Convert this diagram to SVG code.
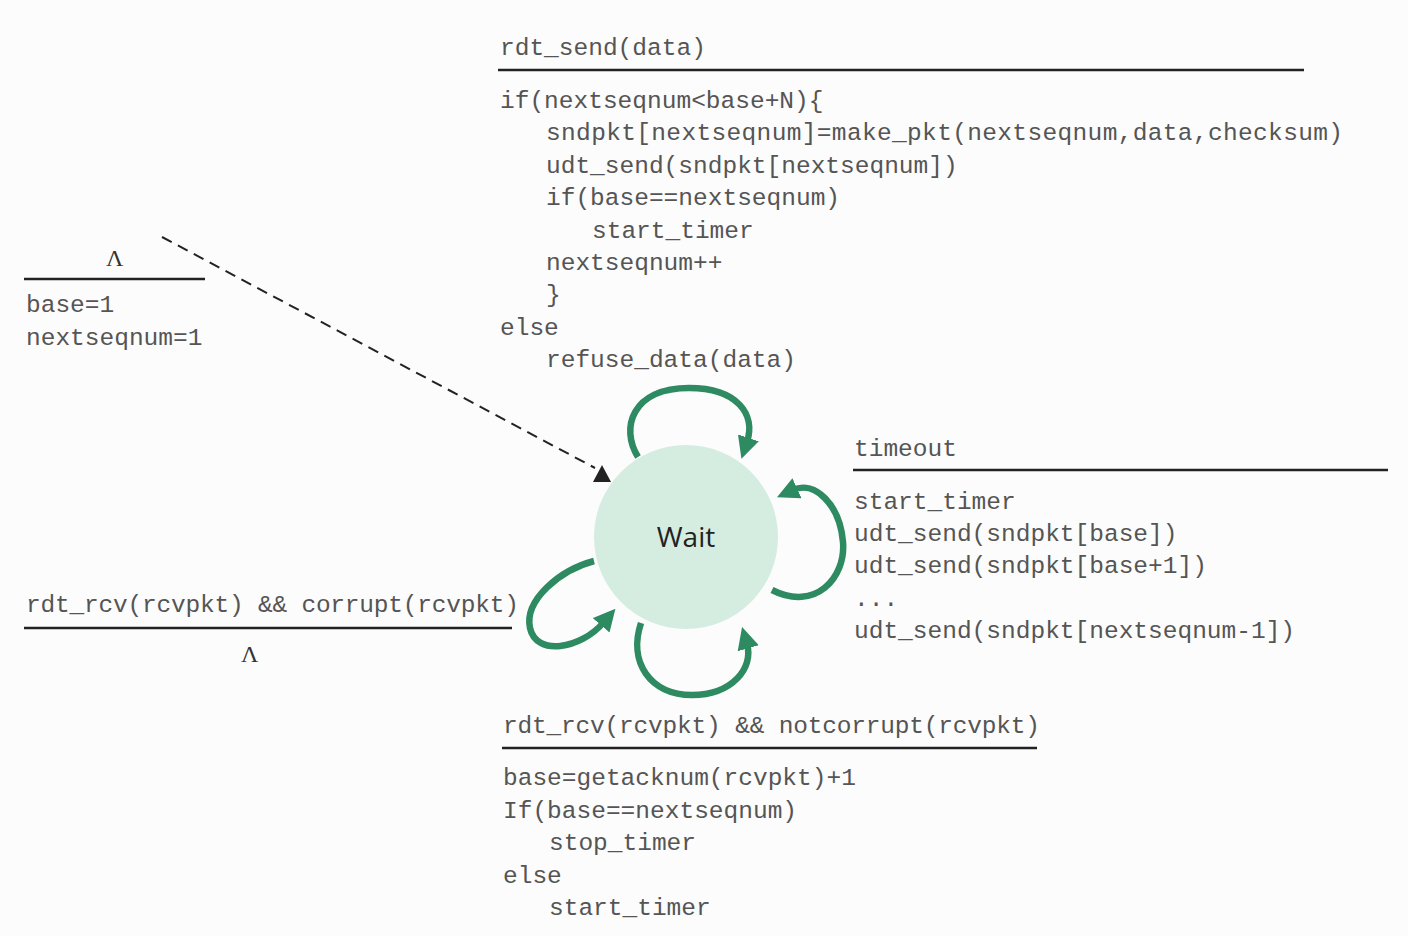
<svg xmlns="http://www.w3.org/2000/svg" width="1408" height="936" viewBox="0 0 1408 936">
  <style>
    .code { font-family: "Liberation Mono", "Courier New", monospace; font-size: 24.5px; fill: #555; }
    .lam { font-family: "Liberation Serif", "Times New Roman", serif; font-size: 24px; fill: #333; }
    .bar { stroke: #222; stroke-width: 2.5; fill: none; }
    .loop { stroke: #2e8a60; stroke-width: 6.5; fill: none; marker-end: url(#greenHead); }
    .state { fill: #d5ece1; }
    .stateLabel { font-family: "Open Sans", "Noto Sans", sans-serif; font-size: 28px; fill: #222; text-anchor: middle; }
  </style>
  <defs>
    <marker id="greenHead" viewBox="0 0 10 10" refX="2" refY="5" markerWidth="22" markerHeight="22" markerUnits="userSpaceOnUse" orient="auto">
      <path d="M0,0 L10,5 L0,10 z" fill="#2e8a60"/>
    </marker>
  </defs>

  <rect width="1408" height="936" fill="#fcfcfc"/>

  <!-- state node -->
  <g id="node-wait">
    <circle class="state" cx="686" cy="537" r="92"/>
    <text class="stateLabel" x="686" y="547">Wait</text>
  </g>

  <!-- connectors: initial transition and self loops -->
  <g id="connectors">
    <line x1="162" y1="237" x2="595" y2="468" stroke="#222" stroke-width="2" stroke-dasharray="11,7"/>
    <polygon points="602,465 593,482 611,482" fill="#222"/>
    <!-- rdt_send loop (top) -->
    <path class="loop" d="M 638 457 C 620 428, 632 388, 689 388 C 738 388, 756 415, 747 442"/>
    <!-- timeout loop (right) -->
    <path class="loop" d="M 772 590 C 815 612, 846 578, 843 542 C 840 505, 815 480, 793 490"/>
    <!-- corrupt loop (left) -->
    <path class="loop" d="M 594 561 C 560 570, 524 600, 530 628 C 536 656, 580 650, 604 622"/>
    <!-- notcorrupt loop (bottom) -->
    <path class="loop" d="M 641 623 C 628 662, 650 695, 692 695 C 732 695, 754 668, 747 644"/>
  </g>

  <!-- initial transition label -->
  <g id="label-init">
    <text class="lam" x="106" y="266">Λ</text>
    <line class="bar" x1="24" y1="279" x2="205" y2="279"/>
    <text class="code" x="26" y="312">base=1</text>
    <text class="code" x="26" y="345">nextseqnum=1</text>
  </g>

  <!-- rdt_send transition label -->
  <g id="label-send">
    <text class="code" x="500" y="55">rdt_send(data)</text>
    <line class="bar" x1="498" y1="70" x2="1304" y2="70"/>
    <text class="code" x="500" y="108">if(nextseqnum&lt;base+N){</text>
    <text class="code" x="546" y="140" textLength="797">sndpkt[nextseqnum]=make_pkt(nextseqnum,data,checksum)</text>
    <text class="code" x="546" y="173">udt_send(sndpkt[nextseqnum])</text>
    <text class="code" x="546" y="205">if(base==nextseqnum)</text>
    <text class="code" x="592" y="238">start_timer</text>
    <text class="code" x="546" y="270">nextseqnum++</text>
    <text class="code" x="546" y="302">}</text>
    <text class="code" x="500" y="335">else</text>
    <text class="code" x="546" y="367">refuse_data(data)</text>
  </g>

  <!-- timeout transition label -->
  <g id="label-timeout">
    <text class="code" x="854" y="456">timeout</text>
    <line class="bar" x1="853" y1="470" x2="1388" y2="470"/>
    <text class="code" x="854" y="509">start_timer</text>
    <text class="code" x="854" y="541">udt_send(sndpkt[base])</text>
    <text class="code" x="854" y="573">udt_send(sndpkt[base+1])</text>
    <text class="code" x="854" y="606">...</text>
    <text class="code" x="854" y="638">udt_send(sndpkt[nextseqnum-1])</text>
  </g>

  <!-- corrupt ACK transition label -->
  <g id="label-corrupt">
    <text class="code" x="26" y="612" textLength="493">rdt_rcv(rcvpkt) &amp;&amp; corrupt(rcvpkt)</text>
    <line class="bar" x1="24" y1="628" x2="512" y2="628"/>
    <text class="lam" x="241" y="662">Λ</text>
  </g>

  <!-- valid ACK transition label -->
  <g id="label-ack">
    <text class="code" x="503" y="733" textLength="537">rdt_rcv(rcvpkt) &amp;&amp; notcorrupt(rcvpkt)</text>
    <line class="bar" x1="502" y1="748" x2="1037" y2="748"/>
    <text class="code" x="503" y="785">base=getacknum(rcvpkt)+1</text>
    <text class="code" x="503" y="818">If(base==nextseqnum)</text>
    <text class="code" x="549" y="850">stop_timer</text>
    <text class="code" x="503" y="883">else</text>
    <text class="code" x="549" y="915">start_timer</text>
  </g>
</svg>
